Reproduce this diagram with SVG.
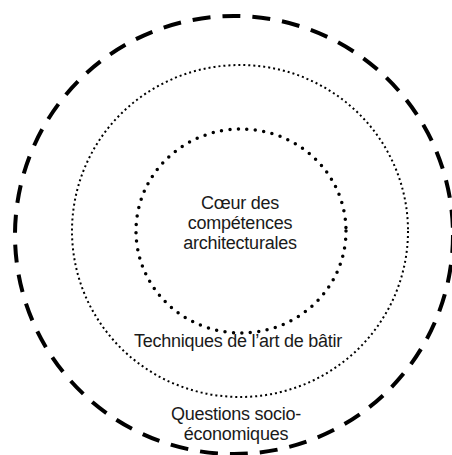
<svg xmlns="http://www.w3.org/2000/svg" width="452" height="455" viewBox="0 0 452 455">
<style>
.lbl{font-family:"Liberation Sans",Arial,sans-serif;font-size:18px;letter-spacing:-0.25px;fill:#1a1a1a;text-anchor:middle}
.ring{fill:none;stroke:#000}
</style>
<rect width="452" height="455" fill="#fff"/>
<g id="outer">
<ellipse class="ring" cx="234" cy="235" rx="219" ry="219" stroke-width="4" stroke-dasharray="18 12"/>
<text class="lbl" x="236" y="420">Questions socio-</text>
<text class="lbl" x="236" y="440">économiques</text>
</g>
<g id="middle">
<ellipse class="ring" cx="240" cy="231" rx="168" ry="166" stroke-width="2" stroke-dasharray="2 3"/>
<text class="lbl" x="238" y="347">Techniques de l’art de bâtir</text>
</g>
<g id="inner">
<ellipse class="ring" cx="241" cy="231" rx="105" ry="102" stroke-width="3.5" stroke-dasharray="0 8.5" stroke-linecap="round"/>
<text class="lbl" x="240" y="209">Cœur des</text>
<text class="lbl" x="240" y="229">compétences</text>
<text class="lbl" x="240" y="249">architecturales</text>
</g>
<g id="connectors"/>
</svg>
